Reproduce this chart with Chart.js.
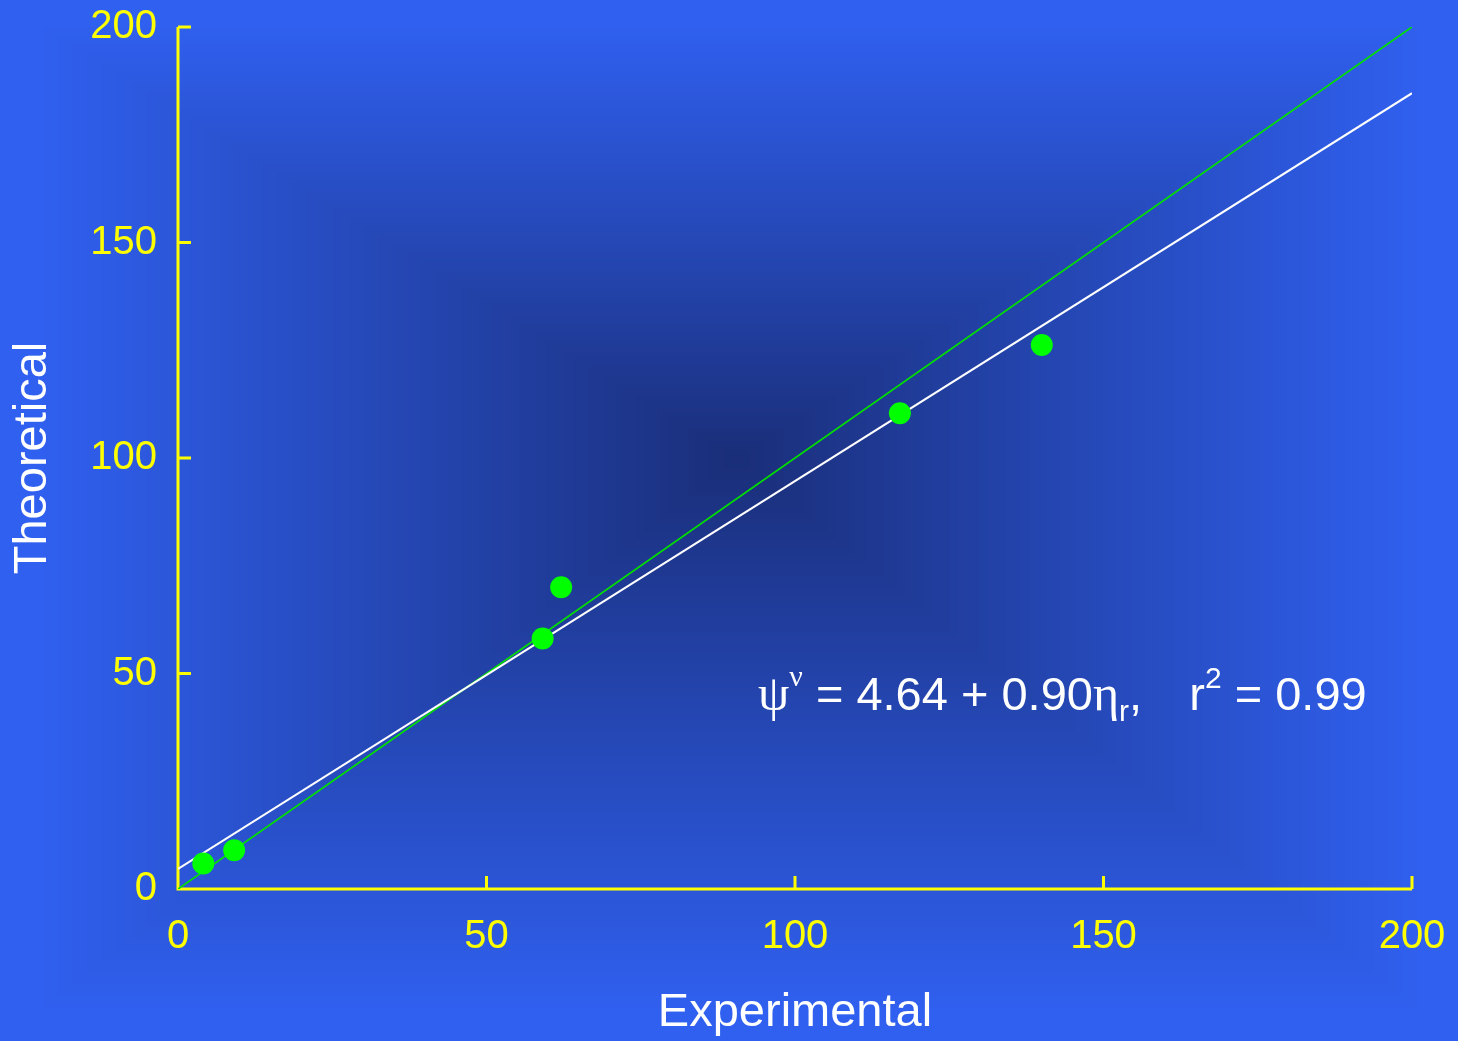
<!DOCTYPE html>
<html lang="en">

<head>
    <meta charset="UTF-8">
    <title>Theoretical vs Experimental</title>
    <script src="https://cdn.jsdelivr.net/npm/chart.js"></script>
    <style>
        html, body {
            margin: 0;
            padding: 0;
            background: #3060f0;
        }

        .box {
            width: 1458px;
            height: 1041px;
        }
    </style>
</head>

<body>
    <div class="box">
        <canvas id="myChart"></canvas>
    </div>

    <script>
        // measured points
        const expValues = [4.1, 9.1, 59.1, 62.1, 117.0, 140.0];
        const theoValues = [5.9, 9.0, 58.1, 70.0, 110.4, 126.2];

        // regression line  psi = 4.64 + 0.90 eta
        const fitIntercept = 4.64;
        const fitSlope = 0.90;
        const rSquared = 0.99;

        const lineX = [0, 200];
        const axisTicks = [0, 50, 100, 150, 200];

        const yellow = '#ffff00';
        const sansFont = '"Liberation Sans", Arial, Helvetica, sans-serif';
        const serifFont = '"Liberation Serif", "Times New Roman", serif';

        // blue background, dark in the middle and lighter toward the edges
        const backgroundPlugin = {
            id: 'backgroundPlugin',
            beforeDraw(chart) {
                const { ctx, width, height } = chart;
                if (!chart.$bg || chart.$bg.width !== width || chart.$bg.height !== height) {
                    const off = document.createElement('canvas');
                    off.width = width;
                    off.height = height;
                    const octx = off.getContext('2d');
                    const img = octx.createImageData(width, height);
                    const cx = width * 0.505, cy = height * 0.44;
                    const dark = [26, 46, 120];
                    const edge = [48, 96, 240];
                    for (let y = 0; y < height; y++) {
                        const dy = y - cy;
                        const ty = dy < 0 ? -dy / cy : dy / (height - cy);
                        for (let x = 0; x < width; x++) {
                            const dx = x - cx;
                            const tx = dx < 0 ? -dx / cx : dx / (width - cx);
                            let t = Math.min(1, Math.max(tx, ty) * 1.05);
                            t = Math.pow(t, 0.95);
                            const i = (y * width + x) * 4;
                            img.data[i] = dark[0] + (edge[0] - dark[0]) * t;
                            img.data[i + 1] = dark[1] + (edge[1] - dark[1]) * t;
                            img.data[i + 2] = dark[2] + (edge[2] - dark[2]) * t;
                            img.data[i + 3] = 255;
                        }
                    }
                    octx.putImageData(img, 0, 0);
                    chart.$bg = off;
                }
                ctx.save();
                ctx.drawImage(chart.$bg, 0, 0);
                ctx.restore();
            }
        };

        // yellow axis lines with ticks pointing into the plot
        const axesPlugin = {
            id: 'axesPlugin',
            beforeDatasetsDraw(chart) {
                const { ctx, chartArea, scales } = chart;
                const xs = scales.x, ys = scales.y;
                const tickLen = 13;
                ctx.save();
                ctx.strokeStyle = yellow;
                ctx.lineWidth = 3;
                ctx.lineCap = 'butt';
                ctx.beginPath();
                ctx.moveTo(chartArea.left, ys.getPixelForValue(200));
                ctx.lineTo(chartArea.left, chartArea.bottom);
                ctx.lineTo(xs.getPixelForValue(200), chartArea.bottom);
                axisTicks.forEach(v => {
                    const px = xs.getPixelForValue(v);
                    ctx.moveTo(px, chartArea.bottom);
                    ctx.lineTo(px, chartArea.bottom - tickLen);
                    const py = ys.getPixelForValue(v);
                    ctx.moveTo(chartArea.left, py);
                    ctx.lineTo(chartArea.left + tickLen, py);
                });
                ctx.stroke();
                ctx.restore();
            }
        };

        // regression equation written inside the plot
        const equationPlugin = {
            id: 'equationPlugin',
            afterDatasetsDraw(chart) {
                const { ctx, scales } = chart;
                let x = scales.x.getPixelForValue(94);
                const y = scales.y.getPixelForValue(41.5);
                const parts = [
                    { t: 'ψ', f: '50px ' + serifFont, dy: 0 },
                    { t: 'ν', f: '30px ' + serifFont, dy: -24 },
                    { t: ' = ' + fitIntercept.toFixed(2) + ' + ' + fitSlope.toFixed(2), f: '47px ' + sansFont, dy: 0 },
                    { t: 'η', f: '50px ' + serifFont, dy: 0 },
                    { t: 'r', f: '30px ' + sansFont, dy: 11 },
                    { t: ',   ', f: '47px ' + sansFont, dy: 0, gap: 8 },
                    { t: 'r', f: '47px ' + sansFont, dy: 0 },
                    { t: '2', f: '30px ' + sansFont, dy: -22 },
                    { t: ' = ' + rSquared.toFixed(2), f: '47px ' + sansFont, dy: 0 }
                ];
                ctx.save();
                ctx.fillStyle = '#ffffff';
                ctx.textBaseline = 'alphabetic';
                ctx.textAlign = 'left';
                parts.forEach(p => {
                    ctx.font = p.f;
                    ctx.fillText(p.t, x, y + p.dy);
                    x += ctx.measureText(p.t).width + (p.gap || 0);
                });
                ctx.restore();
            }
        };

        const canvas = document.getElementById('myChart');
        const ctx = canvas.getContext('2d');

        const chart = new Chart(ctx, {
            type: 'scatter',
            data: {
                datasets: [
                    {
                        label: 'Points',
                        data: expValues.map((v, i) => ({ x: v, y: theoValues[i] })),
                        backgroundColor: '#00ff00',
                        borderWidth: 0,
                        pointRadius: 11,
                        pointHoverRadius: 11,
                        order: 0
                    },
                    {
                        label: 'Fit',
                        type: 'line',
                        data: lineX.map(v => ({ x: v, y: fitIntercept + fitSlope * v })),
                        borderColor: '#ffffff',
                        borderWidth: 2,
                        pointRadius: 0,
                        fill: false,
                        order: 1
                    },
                    {
                        label: 'Identity',
                        type: 'line',
                        data: lineX.map(v => ({ x: v, y: v })),
                        borderColor: '#00e000',
                        borderWidth: 1.8,
                        pointRadius: 0,
                        fill: false,
                        order: 2
                    }
                ]
            },
            options: {
                responsive: true,
                maintainAspectRatio: false,
                animation: false,
                layout: {
                    padding: { left: 0, top: 27, right: 46, bottom: 0 }
                },
                scales: {
                    x: {
                        type: 'linear',
                        min: 0,
                        max: 200,
                        afterFit: s => {
                            s.height = 152;
                            s.paddingLeft = 0;
                            s.paddingRight = 0;
                        },
                        afterBuildTicks: s => { s.ticks = axisTicks.map(v => ({ value: v })); },
                        grid: { display: false, drawTicks: false },
                        border: { display: false },
                        ticks: {
                            color: yellow,
                            padding: 24,
                            maxRotation: 0,
                            font: { family: sansFont, size: 40 }
                        },
                        title: {
                            display: true,
                            text: 'Experimental',
                            color: '#ffffff',
                            padding: { top: 0, bottom: 0 },
                            font: { family: sansFont, size: 47 }
                        }
                    },
                    y: {
                        type: 'linear',
                        min: 0,
                        max: 200,
                        afterFit: s => {
                            s.width = 178;
                            s.paddingTop = 0;
                            s.paddingBottom = 0;
                        },
                        afterBuildTicks: s => { s.ticks = axisTicks.map(v => ({ value: v })); },
                        grid: { display: false, drawTicks: false },
                        border: { display: false },
                        ticks: {
                            color: yellow,
                            padding: 21,
                            font: { family: sansFont, size: 40 }
                        },
                        title: {
                            display: true,
                            text: 'Theoretical',
                            color: '#ffffff',
                            padding: { top: 5, bottom: 0 },
                            font: { family: sansFont, size: 47 }
                        }
                    }
                },
                plugins: {
                    legend: { display: false },
                    tooltip: { enabled: false }
                }
            },
            plugins: [backgroundPlugin, axesPlugin, equationPlugin]
        });
    </script>

</body>

</html>
